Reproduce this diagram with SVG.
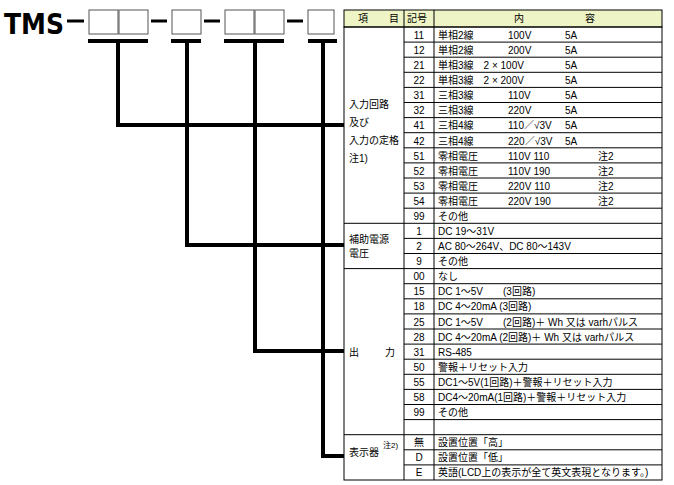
<svg xmlns="http://www.w3.org/2000/svg" width="674" height="485" viewBox="0 0 674 485">
<style>
text{font-family:"Liberation Sans","Noto Sans CJK JP",sans-serif;font-size:10px;fill:#000}
.b{fill:#fff;stroke:#555;stroke-width:1}
.c{stroke:#000;stroke-width:4;fill:none}
.g{stroke:#000;stroke-width:1}
.d{stroke:#000;stroke-width:3}
</style>
<rect width="674" height="485" fill="#fff"/>
<g id="code">
<text x="4" y="34" style="font-size:28px;font-weight:bold;font-family:'DejaVu Sans Condensed','Liberation Sans',sans-serif" textLength="60" lengthAdjust="spacingAndGlyphs">TMS</text>
<line x1="67" y1="21" x2="84" y2="21" class="d"/>
<rect x="89" y="10" width="29" height="24" class="b"/><rect x="119" y="10" width="29" height="24" class="b"/>
<line x1="151" y1="21" x2="167" y2="21" class="d"/>
<rect x="172" y="10" width="29" height="24" class="b"/>
<line x1="204" y1="21" x2="220" y2="21" class="d"/>
<rect x="225" y="10" width="29" height="24" class="b"/><rect x="255" y="10" width="29" height="24" class="b"/>
<line x1="287" y1="21" x2="303" y2="21" class="d"/>
<rect x="308" y="10" width="26" height="24" class="b"/>
</g>
<g id="connectors">
<path class="c" d="M88 41H148M118 41V125H344"/>
<path class="c" d="M171 41H201M187 41V245H344"/>
<path class="c" d="M224 41H284M255 41V351H344"/>
<path class="c" d="M308 41H337M323 41V456H344"/>
</g>
<g id="table">
<rect x="344" y="10" width="318" height="17" fill="#eef4c6" stroke="#000"/>
<text x="358" y="22">項</text><text x="389" y="22">目</text>
<text x="407" y="22">記号</text><text x="514" y="22">内</text><text x="585" y="22">容</text>
<rect x="344" y="27" width="318" height="453" fill="none" stroke="#000"/>
<g class="g">
<line x1="404" y1="10" x2="404" y2="480"/><line x1="434" y1="10" x2="434" y2="480"/>
<line x1="344" y1="223.3" x2="662" y2="223.3"/><line x1="344" y1="268.6" x2="662" y2="268.6"/><line x1="344" y1="434.7" x2="662" y2="434.7"/>
</g>
<g id="rows" class="g">
<path d="M404 42.1H662M404 57.2H662M404 72.3H662M404 87.4H662M404 102.5H662M404 117.6H662M404 132.7H662M404 147.8H662M404 162.9H662M404 178H662M404 193.1H662M404 208.2H662M404 238.4H662M404 253.5H662M404 283.7H662M404 298.8H662M404 313.9H662M404 329H662M404 344.1H662M404 359.2H662M404 374.3H662M404 389.4H662M404 404.5H662M404 419.6H662M404 449.8H662M404 464.9H662"/>
</g>
<text x="349" y="108">入力回路</text><text x="349" y="126">及び</text><text x="349" y="144">入力の定格</text><text x="349" y="162">注1)</text>
<text x="349" y="243">補助電源</text><text x="349" y="257">電圧</text>
<text x="349" y="356">出</text><text x="385" y="356">力</text>
<text x="349" y="456">表示器</text><text x="383" y="448" style="font-size:8px">注2)</text>
<g text-anchor="middle">
<text x="419" y="39">11</text><text x="419" y="54">12</text><text x="419" y="69">21</text><text x="419" y="84">22</text><text x="419" y="99">31</text><text x="419" y="114">32</text><text x="419" y="129">41</text><text x="419" y="145">42</text><text x="419" y="160">51</text><text x="419" y="175">52</text><text x="419" y="190">53</text><text x="419" y="205">54</text><text x="419" y="220">99</text>
<text x="419" y="235">1</text><text x="419" y="250">2</text><text x="419" y="265">9</text>
<text x="419" y="280">00</text><text x="419" y="295">15</text><text x="419" y="310">18</text><text x="419" y="326">25</text><text x="419" y="341">28</text><text x="419" y="356">31</text><text x="419" y="371">50</text><text x="419" y="386">55</text><text x="419" y="401">58</text><text x="419" y="416">99</text>
<text x="419" y="446">無</text><text x="419" y="461">D</text><text x="419" y="476">E</text>
</g>
<g>
<text x="438" y="39">単相2線</text><text x="508" y="39">100V</text><text x="565" y="39">5A</text>
<text x="438" y="54">単相2線</text><text x="508" y="54">200V</text><text x="565" y="54">5A</text>
<text x="438" y="69">単相3線　2 × 100V</text><text x="565" y="69">5A</text>
<text x="438" y="84">単相3線　2 × 200V</text><text x="565" y="84">5A</text>
<text x="438" y="99">三相3線</text><text x="508" y="99">110V</text><text x="565" y="99">5A</text>
<text x="438" y="114">三相3線</text><text x="508" y="114">220V</text><text x="565" y="114">5A</text>
<text x="438" y="129">三相4線</text><text x="508" y="129">110／√3V</text><text x="565" y="129">5A</text>
<text x="438" y="145">三相4線</text><text x="508" y="145">220／√3V</text><text x="565" y="145">5A</text>
<text x="438" y="160">零相電圧</text><text x="508" y="160">110V 110</text><text x="598" y="160">注2</text>
<text x="438" y="175">零相電圧</text><text x="508" y="175">110V 190</text><text x="598" y="175">注2</text>
<text x="438" y="190">零相電圧</text><text x="508" y="190">220V 110</text><text x="598" y="190">注2</text>
<text x="438" y="205">零相電圧</text><text x="508" y="205">220V 190</text><text x="598" y="205">注2</text>
<text x="438" y="220">その他</text>
<text x="438" y="235">DC 19～31V</text>
<text x="438" y="250">AC 80～264V、DC 80～143V</text>
<text x="438" y="265">その他</text>
<text x="438" y="280">なし</text>
<text x="438" y="295">DC 1～5V　　(3回路)</text>
<text x="438" y="310">DC 4～20mA (3回路)</text>
<text x="438" y="326">DC 1～5V　　(2回路)＋ Wh 又は varhパルス</text>
<text x="438" y="341">DC 4～20mA (2回路)＋ Wh 又は varhパルス</text>
<text x="438" y="356">RS-485</text>
<text x="438" y="371">警報＋リセット入力</text>
<text x="438" y="386">DC1～5V(1回路)＋警報＋リセット入力</text>
<text x="438" y="401">DC4～20mA(1回路)＋警報＋リセット入力</text>
<text x="438" y="416">その他</text>
<text x="438" y="446">設置位置「高」</text>
<text x="438" y="461">設置位置「低」</text>
<text x="438" y="476">英語(LCD上の表示が全て英文表現となります。)</text>
</g>
</g>
</svg>
